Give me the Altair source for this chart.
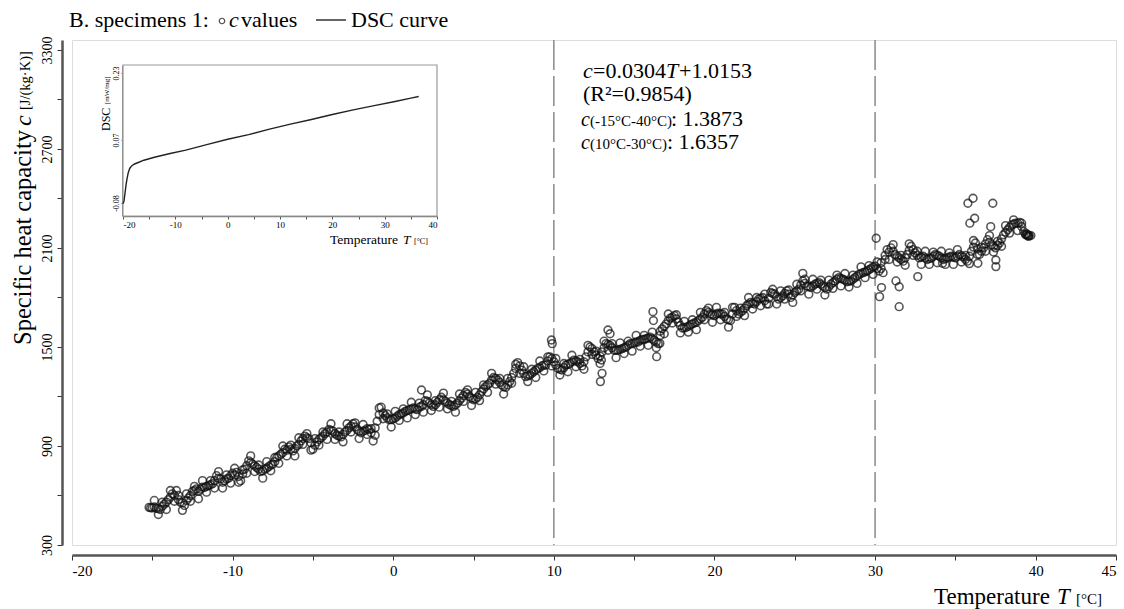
import altair as alt
import pandas as pd

FONT = "Liberation Serif"
PADL, PADT, PADR, PADB = 72, 40, 8, 64
W, H = 1044, 505

# ---- main data: temperature T [°C] and specific heat capacity c [J/(kg·K)] ----
T_band = [
    -15.2, -15.1, -15.0, -14.75, -14.5, -14.25, -14.0, -13.75, -13.5, -13.25, -13.0, -12.75, -12.5, -12.25,
    -12.0, -11.75, -11.5, -11.25, -11.0, -10.75, -10.5, -10.25,
    -10.0, -9.75, -9.5, -9.25, -9.0, -8.75, -8.5, -8.25, -8.0, -7.75, -7.5, -7.25, -7.0, -6.75, -6.5, -6.25,
    -6.0, -5.75, -5.5, -5.25,
    -5.0, -4.75, -4.5, -4.25, -4.0, -3.75, -3.5, -3.25, -3.0, -2.75, -2.5, -2.25, -2.0, -1.75, -1.5, -1.25,
    -1.0, -0.75, -0.5, -0.25,
    0.0, 0.25, 0.5, 0.75, 1.0, 1.25, 1.5, 1.75, 2.0, 2.25, 2.5, 2.75, 3.0, 3.25, 3.5, 3.75, 4.0, 4.25, 4.5, 4.75,
    5.0, 5.25, 5.5, 5.75, 6.0, 6.25, 6.5, 6.75, 7.0, 7.25, 7.5, 7.75, 8.0, 8.25, 8.5, 8.75, 9.0, 9.25, 9.5, 9.75,
    10.0, 10.25, 10.5, 10.75, 11.0, 11.25, 11.5, 11.75, 12.0, 12.25, 12.5, 12.75, 13.0, 13.25, 13.5, 13.75,
    14.0, 14.25, 14.5, 14.75,
    15.0, 15.25, 15.5, 15.75, 16.0, 16.25, 16.5, 16.75, 17.0, 17.25, 17.5, 17.75, 18.0, 18.25, 18.5, 18.75,
    19.0, 19.25, 19.5, 19.75,
    20.0, 20.25, 20.5, 20.75, 21.0, 21.25, 21.5, 21.75, 22.0, 22.25, 22.5, 22.75, 23.0, 23.25, 23.5, 23.75,
    24.0, 24.25, 24.5, 24.75,
    25.0, 25.25, 25.5, 25.75, 26.0, 26.25, 26.5, 26.75, 27.0, 27.25, 27.5, 27.75, 28.0, 28.25, 28.5, 28.75,
    29.0, 29.25, 29.5, 29.75,
    30.0, 30.25, 30.5, 30.75, 31.0, 31.25, 31.5, 31.75, 32.0, 32.25, 32.5, 32.75, 33.0, 33.25, 33.5, 33.75,
    34.0, 34.25, 34.5, 34.75,
    35.0, 35.25, 35.5, 35.75, 36.0, 36.25, 36.5, 36.75, 37.0, 37.25, 37.5, 37.75, 38.0, 38.25, 38.5, 38.75,
    39.0, 39.25, 39.5, 39.6, 39.7,
]
c_band = [
    528, 526, 525, 522, 515, 548, 575, 610, 630, 560, 540, 585, 625, 640,
    638, 648, 660, 672, 720, 700, 690, 705,
    735, 740, 690, 760, 810, 790, 770, 745, 760, 775, 790, 830, 850, 880, 895, 870,
    900, 930, 960, 945,
    880, 925, 950, 975, 1000, 990, 965, 955, 985, 1010, 1035, 1000, 980, 995, 1000, 930,
    1050, 1135, 1085, 1060,
    1065, 1080, 1095, 1110, 1120, 1130, 1120, 1140, 1175, 1160, 1140, 1165, 1195, 1170, 1150, 1140, 1160, 1190, 1225, 1200,
    1180, 1195, 1230, 1260, 1280, 1315, 1300, 1270, 1255, 1290, 1340, 1405, 1360, 1320, 1330, 1350, 1370, 1385, 1390, 1440,
    1410, 1370, 1360, 1390, 1400, 1420, 1410, 1385, 1440, 1500, 1470, 1430, 1470, 1520, 1510, 1480,
    1480, 1490, 1500, 1520,
    1525, 1530, 1545, 1550, 1560, 1540, 1520, 1610, 1640, 1675, 1690, 1650, 1615, 1620, 1635, 1645,
    1660, 1680, 1720, 1700,
    1690, 1705, 1700, 1670, 1660, 1740, 1700, 1720, 1750, 1770, 1760, 1790, 1800, 1760, 1830, 1820,
    1790, 1810, 1840, 1800,
    1830, 1850, 1900, 1870, 1860, 1880, 1890, 1870, 1850, 1880, 1900, 1920, 1910, 1895, 1900, 1920,
    1940, 1950, 1960, 1975,
    1990, 1960, 1950, 2090, 2100, 2060, 2040, 2020, 2060, 2110, 2070, 2040, 2050, 2030, 2040, 2060,
    2050, 2030, 2040, 2050,
    2040, 2060, 2045, 2020, 2080, 2130, 2060, 2100, 2150, 2120, 2100, 2130, 2180, 2210, 2240, 2250,
    2255, 2200, 2175, 2175, 2175,
]
T_band2 = [
    -14.875, -14.625, -14.375, -14.125, -13.875, -13.625, -13.375, -13.125, -12.875, -12.625, -12.375, -12.125,
    -11.875, -11.625, -11.375, -11.125, -10.875, -10.625, -10.375, -10.125, -9.875, -9.625, -9.375, -9.125,
    -8.875, -8.625, -8.375, -8.125, -7.875, -7.625, -7.375, -7.125, -6.875, -6.625, -6.375, -6.125,
    -5.875, -5.625, -5.375, -5.125, -4.875, -4.625, -4.375, -4.125, -3.875, -3.625, -3.375, -3.125,
    -2.875, -2.625, -2.375, -2.125, -1.875, -1.625, -1.375, -1.125, -0.875, -0.625, -0.375, -0.125,
    0.125, 0.375, 0.625, 0.875, 1.125, 1.375, 1.625, 1.875, 2.125, 2.375, 2.625, 2.875,
    3.125, 3.375, 3.625, 3.875, 4.125, 4.375, 4.625, 4.875, 5.125, 5.375, 5.625, 5.875,
    6.125, 6.375, 6.625, 6.875, 7.125, 7.375, 7.625, 7.875, 8.125, 8.375, 8.625, 8.875,
    9.125, 9.375, 9.625, 9.875, 10.125, 10.375, 10.625, 10.875, 11.125, 11.375, 11.625, 11.875,
    12.125, 12.375, 12.625, 12.875, 13.125, 13.375, 13.625, 13.875, 14.125, 14.375, 14.625, 14.875,
    15.125, 15.375, 15.625, 15.875, 16.125, 16.375, 16.625, 16.875, 17.125, 17.375, 17.625, 17.875,
    18.125, 18.375, 18.625, 18.875, 19.125, 19.375, 19.625, 19.875, 20.125, 20.375, 20.625, 20.875,
    21.125, 21.375, 21.625, 21.875, 22.125, 22.375, 22.625, 22.875, 23.125, 23.375, 23.625, 23.875,
    24.125, 24.375, 24.625, 24.875, 25.125, 25.375, 25.625, 25.875, 26.125, 26.375, 26.625, 26.875,
    27.125, 27.375, 27.625, 27.875, 28.125, 28.375, 28.625, 28.875, 29.125, 29.375, 29.625, 29.875,
    30.125, 30.375, 30.625, 30.875, 31.125, 31.375, 31.625, 31.875, 32.125, 32.375, 32.625, 32.875,
    33.125, 33.375, 33.625, 33.875, 34.125, 34.375, 34.625, 34.875, 35.125, 35.375, 35.625, 35.875,
    36.125, 36.375, 36.625, 36.875, 37.125, 37.375, 37.625, 37.875, 38.125, 38.375, 38.625, 38.875,
    39.125, 39.375, 39.45, 39.55,
]
c_band2 = [
    530, 520, 535, 560, 590, 600, 575, 555, 570, 600, 630, 625,
    650, 655, 665, 690, 705, 680, 700, 720, 725, 715, 730, 780,
    800, 780, 760, 750, 765, 785, 805, 840, 860, 875, 880, 885,
    910, 945, 950, 920, 905, 940, 960, 985, 995, 975, 960, 970,
    995, 1020, 1015, 990, 990, 1005, 980, 1010, 1090, 1100, 1070, 1060,
    1070, 1090, 1100, 1115, 1125, 1125, 1135, 1150, 1170, 1150, 1150, 1180,
    1180, 1160, 1145, 1150, 1175, 1205, 1215, 1190, 1185, 1210, 1245, 1270,
    1300, 1310, 1285, 1260, 1270, 1315, 1370, 1385, 1340, 1325, 1340, 1360,
    1375, 1390, 1415, 1430, 1390, 1365, 1375, 1395, 1410, 1415, 1400, 1410,
    1470, 1490, 1450, 1445, 1495, 1515, 1495, 1480, 1485, 1495, 1510, 1520,
    1530, 1540, 1545, 1555, 1550, 1530, 1570, 1625, 1660, 1680, 1670, 1630,
    1615, 1625, 1640, 1650, 1670, 1700, 1710, 1695, 1700, 1700, 1685, 1665,
    1700, 1720, 1710, 1735, 1760, 1765, 1775, 1795, 1780, 1795, 1825, 1805,
    1800, 1825, 1820, 1815, 1840, 1875, 1885, 1865, 1870, 1885, 1880, 1860,
    1865, 1890, 1910, 1915, 1905, 1898, 1910, 1930, 1945, 1955, 1968, 1985,
    1975, 2010, 2030, 2075, 2080, 2050, 2030, 2040, 2085, 2090, 2055, 2045,
    2040, 2035, 2050, 2055, 2040, 2035, 2045, 2045, 2050, 2050, 2030, 2050,
    2105, 2095, 2080, 2125, 2135, 2110, 2115, 2155, 2195, 2225, 2245, 2250,
    2230, 2185, 2180, 2170,
]
# readings from the upper and lower edges of the scatter band (same temperatures as T_band2)
c_band3 = [
    570, 485, 560, 515, 630, 565, 600, 510, 610, 565, 655, 580,
    690, 620, 690, 645, 745, 645, 725, 675, 765, 680, 755, 735,
    840, 745, 785, 705, 805, 750, 830, 795, 900, 840, 905, 840,
    950, 910, 975, 875, 945, 905, 985, 940, 1035, 940, 985, 925,
    1035, 985, 1040, 945, 1030, 970, 1005, 965, 1130, 1065, 1095, 1015,
    1110, 1055, 1125, 1070, 1165, 1090, 1160, 1105, 1210, 1115, 1175, 1135,
    1220, 1125, 1170, 1105, 1215, 1170, 1240, 1145, 1225, 1175, 1270, 1225,
    1340, 1275, 1310, 1215, 1310, 1280, 1395, 1340, 1380, 1290, 1365, 1315,
    1415, 1355, 1440, 1385, 1430, 1330, 1400, 1350, 1450, 1380, 1425, 1365,
    1510, 1455, 1475, 1400, 1535, 1480, 1520, 1435, 1525, 1460, 1535, 1475,
    1570, 1505, 1570, 1510, 1590, 1495, 1595, 1580, 1700, 1645, 1695, 1585,
    1655, 1590, 1665, 1605, 1710, 1665, 1735, 1650, 1740, 1665, 1710, 1620,
    1740, 1685, 1735, 1690, 1800, 1730, 1800, 1750, 1820, 1760, 1850, 1760,
    1840, 1790, 1845, 1770, 1880, 1840, 1910, 1820, 1910, 1850, 1905, 1815,
    1905, 1855, 1935, 1870, 1945, 1863, 1935, 1885, 1985, 1920, 1993, 1940,
    2015, 1975, 2055, 2030, 2120, 2015, 2055, 1995, 2125, 2055, 2080, 2000,
    2080, 2000, 2075, 2010, 2080, 2000, 2070, 2000, 2090, 2015, 2055, 2005,
    2145, 2060, 2105, 2080, 2175, 2075, 2140, 2110, 2235, 2190, 2270, 2205,
    2250, 2180, 2185, 2175,
]
T_out = [1.76, 9.85, 9.9, 12.9, 13.0, 12.96, 13.37, 13.5, 16.17, 16.2, 16.4, 16.6, 25.5, 30.07, 30.28, 30.4,
         31.5, 31.5, 31.3, 35.78, 36.1, 35.9, 36.2, 37.33, 37.2, 37.52, 37.52, 36.4, 34.2, 32.66]
c_out = [1239, 1542, 1520, 1290, 1340, 1421, 1603, 1580, 1714, 1660, 1441, 1522, 1946, 2159, 1805, 1860,
         1865, 1744, 1900, 2371, 2401, 2250, 2280, 2371, 2229, 2027, 1987, 2007, 2007, 1926]

vlines = [10, 30]
x_ticks = [-20, -15, -10, -5, 0, 5, 10, 15, 20, 25, 30, 35, 40, 45]
y_ticks = [300, 600, 900, 1200, 1500, 1800, 2100, 2400, 2700, 3000, 3300]

# ---- inset: DSC curve ----
dsc_T = [-20.0, -19.8, -19.6, -19.4, -19.2, -19.0, -18.7, -18.3, -17.8, -17.2, -16.0, -14.0, -11.0, -8.0,
         -4.0, 0.0, 4.0, 8.0, 12.0, 16.0, 20.0, 24.0, 28.0, 32.0, 35.0, 36.5]
dsc_v = [-0.082, -0.075, -0.055, -0.035, -0.02, -0.008, 0.003, 0.009, 0.013, 0.016, 0.022, 0.029, 0.038, 0.046,
         0.059, 0.072, 0.083, 0.096, 0.108, 0.119, 0.131, 0.142, 0.152, 0.162, 0.170, 0.174]
inset_x_ticks = [-20, -15, -10, -5, 0, 5, 10, 15, 20, 25, 30, 35, 40]
inset_y_ticks = [-0.08, 0.07, 0.23]

df = pd.DataFrame({
    "T": T_band + T_band2 + T_band2 + T_out,
    "c": c_band + c_band2 + c_band3 + c_out,
})
df_v = pd.DataFrame({"T": vlines})
df_dsc = pd.DataFrame({"T": dsc_T, "v": dsc_v})

xscale = alt.Scale(domain=[-20, 45], nice=False, zero=False)
yscale = alt.Scale(domain=[300, 3360], nice=False, zero=False)

axis_common = dict(
    labelFont=FONT, labelColor="black", domainColor="#555", domainWidth=2.5,
    tickColor="#333", tickSize=5, tickWidth=1, grid=False, title=None,
)

rules = alt.Chart(df_v).mark_rule(color="#8a8a8a", strokeWidth=1.5, strokeDash=[30, 6]).encode(
    x=alt.X("T:Q", scale=xscale)
)
points = alt.Chart(df).mark_point(shape="circle", filled=False, color="#111", size=60, strokeWidth=1.6).encode(
    x=alt.X("T:Q", scale=xscale, axis=alt.Axis(
        values=x_ticks, offset=10, labelFontSize=15, labelPadding=3,
        labelExpr="(datum.value % 10 == 0 || datum.value == 45) ? '' + datum.value : ''", **axis_common)),
    y=alt.Y("c:Q", scale=yscale, axis=alt.Axis(
        values=y_ticks, offset=10, labelFontSize=14, labelAngle=270, labelAlign="center",
        labelBaseline="bottom", labelPadding=3,
        labelExpr="((datum.value - 300) % 600 == 0) ? '' + datum.value : ''", **axis_common)),
)
main = alt.layer(rules, points)

# inset occupies its own pixel box inside the plot area
ix = alt.Scale(domain=[-20, 40], range=[51, 365], nice=False, zero=False)
iy = alt.Scale(domain=[-0.111, 0.249], range=[176, 25], nice=False, zero=False)

inset_frame = alt.Chart(pd.DataFrame({"a": [0]})).mark_rect(
    fill="white", stroke="#999", strokeWidth=1.2
).encode(x=alt.value(51), x2=alt.value(365), y=alt.value(25), y2=alt.value(176))

inset_line = alt.Chart(df_dsc).mark_line(color="#222", strokeWidth=1.4).encode(
    x=alt.X("T:Q", scale=ix, axis=alt.Axis(
        orient="bottom", offset=-329, values=inset_x_ticks, labelFont=FONT, labelFontSize=9,
        labelExpr="(datum.value % 10 == 0) ? '' + datum.value : ''", domainColor="#777", domainWidth=1.5,
        tickColor="#555", tickSize=3, labelPadding=1, grid=False, title=None, labelColor="black")),
    y=alt.Y("v:Q", scale=iy, axis=alt.Axis(
        orient="left", offset=-51, values=inset_y_ticks, labelFont=FONT, labelFontSize=8, labelAngle=270,
        labelAlign="center", labelBaseline="bottom", labelPadding=1, labelExpr="'' + datum.value",
        domainColor="#888", domainWidth=3, tickColor="#555", tickSize=2, grid=False, title=None,
        labelColor="black")),
)
inset = alt.layer(inset_frame, inset_line)


def label(s, x, y, size, style="normal", angle=0, align="left", baseline="alphabetic"):
    return alt.Chart(pd.DataFrame({"s": [s]})).mark_text(
        font=FONT, fontSize=size, fontStyle=style, angle=angle, align=align, baseline=baseline, color="black"
    ).encode(x=alt.value(x - PADL), y=alt.value(y - PADT), text="s:N")


texts = [
    # top legend line
    label("B. specimens 1:", 69, 27, 22),
    label("c", 229, 27, 22, "italic"),
    label("values", 241, 27, 22),
    label("DSC curve", 351, 27, 22),
    # regression annotation
    label("c", 583, 78, 22, "italic"),
    label("=0.0304", 593, 78, 22),
    label("T", 666, 78, 22, "italic"),
    label("+1.0153", 679, 78, 22),
    label("(R\u00b2=0.9854)", 583, 101, 22),
    label("c", 581, 126, 20, "italic"),
    label("(-15\u00b0C-40\u00b0C)", 590, 126, 15),
    label(": 1.3873", 671, 126, 22),
    label("c", 581, 149, 20, "italic"),
    label("(10\u00b0C-30\u00b0C)", 590, 149, 15),
    label(": 1.6357", 667, 149, 22),
    # main axis titles
    label("Specific heat capacity", 24, 345, 24.5, angle=270, baseline="middle"),
    label("c", 24, 126, 24, "italic", angle=270, baseline="middle"),
    label("[J/(kg\u00b7K)]", 26, 110, 14.5, angle=270, baseline="middle"),
    label("Temperature", 934, 604, 23),
    label("T", 1057, 604, 23, "italic"),
    label("[\u00b0C]", 1076, 604, 15),
    # inset titles
    label("DSC", 106, 131, 12, angle=270, baseline="middle"),
    label("[mW/mg]", 107, 104, 7, angle=270, baseline="middle"),
    label("Temperature", 330, 244, 13.5),
    label("T", 403, 244, 13.5, "italic"),
    label("[\u00b0C]", 414, 244, 8),
]

legend_circle = alt.Chart(pd.DataFrame({"a": [0]})).mark_point(
    shape="circle", filled=False, color="black", size=30, strokeWidth=1.2
).encode(x=alt.value(222 - PADL), y=alt.value(21 - PADT))
legend_line = alt.Chart(pd.DataFrame({"a": [0]})).mark_rule(color="black", strokeWidth=1.2).encode(
    x=alt.value(316 - PADL), x2=alt.value(346 - PADL), y=alt.value(20 - PADT)
)

chart = alt.layer(main, inset, legend_circle, legend_line, *texts).resolve_scale(
    x="independent", y="independent"
).properties(
    width=W, height=H, autosize="none",
    padding={"left": PADL, "top": PADT, "right": PADR, "bottom": PADB},
).configure_view(stroke="#aaa", strokeWidth=1.5).configure(background="white")

chart.save("out.html", embed_options={"renderer": "svg", "actions": False})
